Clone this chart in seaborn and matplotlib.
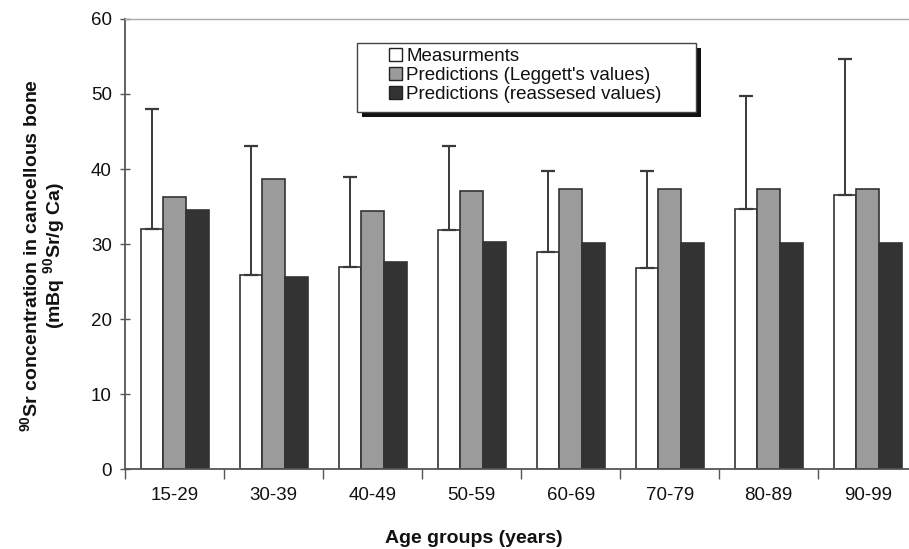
import numpy as np
import pandas as pd
import matplotlib
matplotlib.use("Agg")
import matplotlib.pyplot as plt
from matplotlib.patches import Rectangle
import seaborn as sns

# Age groups and mean 90Sr concentrations (mBq 90Sr / g Ca)
age_groups = ["15-29", "30-39", "40-49", "50-59", "60-69", "70-79", "80-89", "90-99"]
measurements = [32.0, 25.9, 27.0, 31.9, 28.9, 26.8, 34.7, 36.6]
measurement_upper = [48.0, 43.0, 39.0, 43.0, 39.8, 39.7, 49.7, 54.6]
pred_leggett = [36.3, 38.7, 34.4, 37.1, 37.4, 37.3, 37.3, 37.3]
pred_reassessed = [34.5, 25.6, 27.6, 30.3, 30.2, 30.2, 30.1, 30.1]

series_names = ["Measurments", "Predictions (Leggett's values)", "Predictions (reassesed values)"]
series_colors = ["#ffffff", "#9b9b9b", "#333333"]

sns.set_theme(style="white")
plt.rcParams["font.family"] = ["Liberation Sans", "DejaVu Sans"]
plt.rcParams["mathtext.fontset"] = "custom"
plt.rcParams["mathtext.rm"] = "Liberation Sans:bold"
plt.rcParams["mathtext.it"] = "Liberation Sans:bold"
plt.rcParams["mathtext.bf"] = "Liberation Sans:bold"

TEXT = "#111111"

df = pd.DataFrame({
    "age": age_groups * 3,
    "value": measurements + pred_leggett + pred_reassessed,
    "series": [s for s in series_names for _ in age_groups],
})

fig = plt.figure(figsize=(9.09, 5.49), dpi=100)
ax = fig.add_axes([0.1377, 0.1457, 0.8713, 0.8197])

sns.barplot(data=df, x="age", y="value", hue="series", hue_order=series_names,
            order=age_groups, palette=series_colors, saturation=1, width=0.69,
            gap=0, edgecolor="#333333", linewidth=1.2, errorbar=None, ax=ax,
            legend=True)

# Upper error bars on the measurement bars
meas_bars = ax.containers[0]
xc = [p.get_x() + p.get_width() / 2 for p in meas_bars]
upper = np.array(measurement_upper) - np.array(measurements)
ax.errorbar(xc, measurements, yerr=[np.zeros_like(upper), upper], fmt="none",
            ecolor="#3a3a3a", elinewidth=1.4, capsize=5, capthick=1.6, zorder=3)

ax.set_xlim(-0.5, len(age_groups) - 0.5)
ax.set_ylim(0, 60)
ax.set_yticks(range(0, 61, 10))

ax.tick_params(axis="x", which="major", length=0, pad=13, labelsize=13.5,
               labelcolor=TEXT)
ax.set_xticks(np.arange(-0.5, len(age_groups), 1.0), minor=True)
ax.tick_params(axis="x", which="minor", bottom=True, length=7, width=1,
               color="#555555", direction="out")
ax.tick_params(axis="y", left=True, length=7, width=1, color="#555555",
               direction="inout", labelsize=13.5, labelcolor=TEXT, pad=6)

for s in ["left", "bottom"]:
    ax.spines[s].set_color("#555555")
    ax.spines[s].set_linewidth(1.3)
ax.spines["top"].set_color("#aaaaaa")
ax.spines["top"].set_linewidth(1.0)
ax.spines["top"].set_linestyle((0, (3, 1)))
ax.spines["right"].set_visible(False)

ax.set_xlabel("Age groups (years)", fontsize=14, fontweight="bold", color=TEXT)
ax.xaxis.set_label_coords(0.44, -0.135)
ax.set_ylabel("$^{90}$Sr concentration in cancellous bone\n(mBq $^{90}$Sr/g Ca)",
              fontsize=14, fontweight="bold", color=TEXT, linespacing=1.0)
ax.yaxis.set_label_coords(-0.074, 0.475)

# Legend box with offset drop shadow
def px_to_axes(px, py):
    return (px - 125.2) / 792.0, (469.0 - py) / 450.0

x0, y0 = px_to_axes(362, 117)
x1, y1 = px_to_axes(701, 48)
ax.add_patch(Rectangle((x0, y0), x1 - x0, y1 - y0, transform=ax.transAxes,
                       facecolor="#111111", edgecolor="none", zorder=5, clip_on=False))
x0, y0 = px_to_axes(357, 112)
x1, y1 = px_to_axes(696, 43)
ax.add_patch(Rectangle((x0, y0), x1 - x0, y1 - y0, transform=ax.transAxes,
                       facecolor="white", edgecolor="#444444", linewidth=1.0,
                       zorder=6, clip_on=False))

handles, labels = ax.get_legend_handles_labels()
leg = ax.legend(handles, labels, loc="upper left", bbox_to_anchor=px_to_axes(389, 48),
                bbox_transform=ax.transAxes, frameon=False, fontsize=13.5,
                borderpad=0, borderaxespad=0, handlelength=0.7, handleheight=0.7,
                handletextpad=0.22, labelspacing=0.1)
leg.set_zorder(7)
for t in leg.get_texts():
    t.set_color(TEXT)
for h in leg.legend_handles:
    h.set_edgecolor("#222222")
    h.set_linewidth(1.0)

fig.savefig("out.png", dpi=100)
